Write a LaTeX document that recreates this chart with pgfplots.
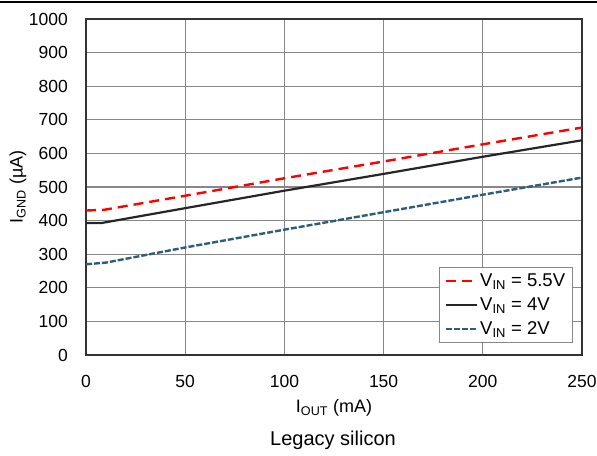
\documentclass[border=0pt]{standalone}
\usepackage{pgfplots}
\pgfplotsset{compat=1.18}
\usepackage{fontspec}
\setmainfont{Liberation Sans}
\definecolor{vblue}{RGB}{44,94,122}
\definecolor{gridgray}{RGB}{135,135,135}
\newcommand{\ff}{\fontsize{17.5bp}{20bp}\selectfont}
\newcommand{\fl}{\fontsize{18bp}{21bp}\selectfont}
\newcommand{\fg}{\fontsize{18.5bp}{21bp}\selectfont}
\newcommand{\fc}{\fontsize{20bp}{24bp}\selectfont}
\begin{document}
\begin{tikzpicture}
\begin{axis}[
  at={(0,0)}, anchor=south west,
  scale only axis, width=496bp, height=336bp,
  xmin=0, xmax=250, ymin=0, ymax=1000,
  xtick={0,50,...,250}, ytick={0,100,...,1000},
  grid=major,
  major grid style={color=gridgray, line width=1.3bp},
  axis line style={color=black!80, line width=2.2bp},
  major tick length=0pt,
  /pgf/number format/assume math mode=true,
  /pgf/number format/1000 sep={},
  tick label style={font=\ff},
  yticklabel style={inner sep=0pt, anchor=east, xshift=-18bp},
  xticklabel style={inner sep=0pt, anchor=north, yshift=-20bp},
  xlabel={I\textsubscript{OUT} (mA)},
  ylabel={I\textsubscript{GND} (µA)},
  label style={font=\fl},
  xlabel style={at={(axis description cs:0.5,-0.158)}, anchor=center},
  ylabel style={at={(axis description cs:-0.137,0.5)}, anchor=center},
  legend cell align=left,
  legend style={at={(axis description cs:0.982,0.036)}, anchor=south east,
    draw=gridgray, line width=0.9bp, font=\fg, fill=white,
    inner xsep=6bp, inner ysep=4.5bp, row sep=7bp,
    nodes={inner sep=1.5bp}},
  legend image code/.code={\draw[#1] (0bp,0bp) -- (31bp,0bp);},
]
\addplot[color=red, line width=2.4bp, dash pattern=on 10bp off 6bp] coordinates {
 (0,430) (9,432) (50,474) (100,526) (150,576) (200,627) (250,677)};
\addlegendentry{V\textsubscript{IN} = 5.5V}
\addplot[color=black!85, line width=2.2bp] coordinates {
 (0,393) (8,393) (50,437) (100,489) (150,539) (200,590) (250,639)};
\addlegendentry{V\textsubscript{IN} = 4V}
\addplot[color=vblue, line width=2.4bp, dash pattern=on 6bp off 2bp] coordinates {
 (0,270) (10,275) (50,320) (100,373) (150,425) (200,477) (250,528)};
\addlegendentry{V\textsubscript{IN} = 2V}
\end{axis}
\draw[line width=1.5bp] (-86bp,353bp) -- (511bp,353bp);
\node[font=\fc] at (247bp,-85bp) {Legacy silicon};
\pgfresetboundingbox
\path[use as bounding box] (-86bp,-101bp) rectangle (511bp,355bp);
\end{tikzpicture}
\end{document}
